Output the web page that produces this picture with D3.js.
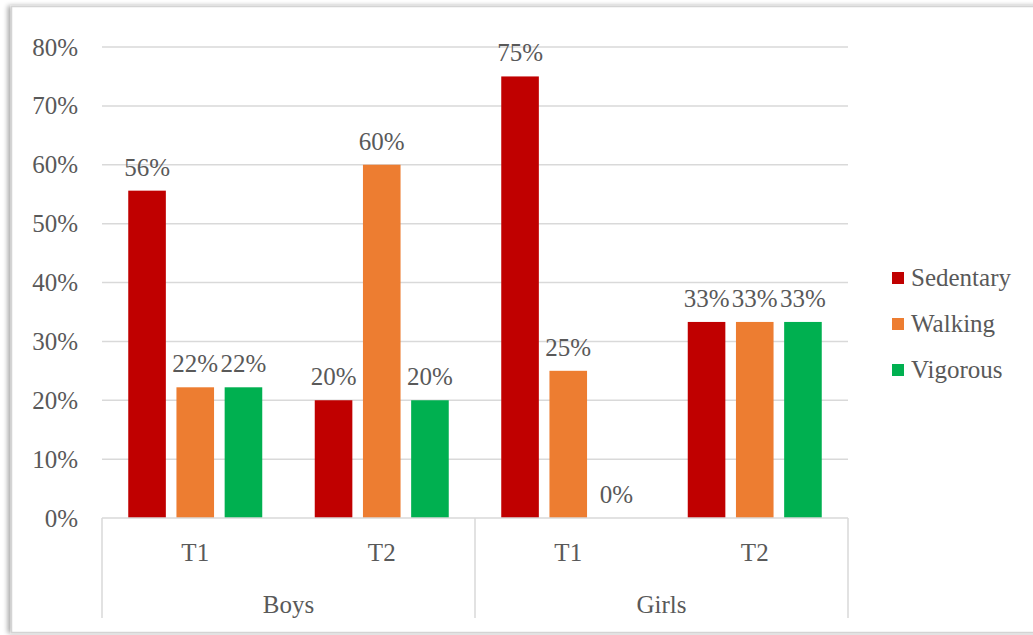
<!DOCTYPE html>
<html>
<head>
<meta charset="utf-8">
<script src="https://cdn.jsdelivr.net/npm/d3@7"></script>
<style>
html,body{margin:0;padding:0;background:#fff;}
svg{display:block;}
text{font-family:"Liberation Serif","Times New Roman",serif;fill:#595959;}
</style>
</head>
<body>
<svg id="chart" width="1033" height="635"></svg>
<script>
const groups = ["Boys", "Girls"];
const times = ["T1", "T2"];
const series = ["Sedentary", "Walking", "Vigorous"];
const colors = ["#C00000", "#ED7D31", "#00B050"];
const sedentary = [55.6, 20, 75, 33.3];
const walking = [22.2, 60, 25, 33.3];
const vigorous = [22.2, 20, 0, 33.3];
const dataLabels = [["56%","20%","75%","33%"],["22%","60%","25%","33%"],["22%","20%","0%","33%"]];
const yTicks = [0, 10, 20, 30, 40, 50, 60, 70, 80];

(function(){
const values = [sedentary, walking, vigorous];
const cats = [];
groups.forEach(g => times.forEach(t => cats.push(g + "|" + t)));

const svg = d3.select("#chart");

// frame with shadow
const defs = svg.append("defs");
const f = defs.append("filter").attr("id","sh").attr("x","-5%").attr("y","-5%").attr("width","110%").attr("height","110%");
f.append("feGaussianBlur").attr("in","SourceAlpha").attr("stdDeviation",2.5);
f.append("feOffset").attr("dx",-3).attr("dy",0).attr("result","b");
f.append("feComponentTransfer").append("feFuncA").attr("type","linear").attr("slope",0.35);
const fm = f.append("feMerge");
fm.append("feMergeNode");
fm.append("feMergeNode").attr("in","SourceGraphic");
svg.append("rect").attr("x",11.5).attr("y",6.5).attr("width",1040).attr("height",626)
  .attr("fill","#fff").attr("stroke","#d4d4d4").attr("stroke-width",1.5).attr("filter","url(#sh)");

const pLeft = 102, pRight = 848, pTop = 47, pBottom = 518;
const y = d3.scaleLinear().domain([0, 80]).range([pBottom, pTop]);
const x = d3.scaleBand().domain(cats).range([pLeft, pRight]).paddingInner(0).paddingOuter(0);
const xg = d3.scaleBand().domain(groups).range([pLeft, pRight]);
const groupW = 134;
const xs = d3.scaleBand().domain(series).range([0, groupW]).paddingInner(0.22).paddingOuter(0);

// gridlines
svg.append("g").selectAll("line").data(yTicks.filter(d => d > 0)).join("line")
  .attr("x1", pLeft).attr("x2", pRight).attr("y1", d => y(d)).attr("y2", d => y(d))
  .attr("stroke", "#d9d9d9").attr("stroke-width", 1.5);

// y axis labels
const yAxis = d3.axisLeft(y).tickValues(yTicks).tickFormat(d => d + "%").tickSize(0).tickPadding(24);
const ya = svg.append("g").attr("transform", `translate(${pLeft},0)`).call(yAxis);
ya.select(".domain").remove();
ya.selectAll("text").style("font-size","25px").style("fill","#595959").style("font-family","Liberation Serif");

// bars
series.forEach((s, si) => {
  svg.append("g").selectAll("rect").data(values[si]).join("rect")
    .attr("x", (d, i) => x(cats[i]) + x.bandwidth()/2 - groupW/2 + xs(s))
    .attr("width", xs.bandwidth())
    .attr("y", d => y(d))
    .attr("height", d => y(0) - y(d))
    .attr("fill", colors[si]);
  svg.append("g").selectAll("text").data(values[si]).join("text")
    .attr("x", (d, i) => x(cats[i]) + x.bandwidth()/2 - groupW/2 + xs(s) + xs.bandwidth()/2)
    .attr("y", d => y(d) - 15)
    .attr("text-anchor","middle").style("font-size","25px")
    .text((d, i) => dataLabels[si][i]);
});

// category axis
const ax = svg.append("g");
ax.append("line").attr("x1", pLeft).attr("x2", pRight).attr("y1", pBottom).attr("y2", pBottom)
  .attr("stroke","#d9d9d9").attr("stroke-width",1.5);
const seps = [pLeft, xg("Girls"), pRight];
ax.selectAll("line.sep").data(seps).join("line").attr("class","sep")
  .attr("x1", d => d).attr("x2", d => d).attr("y1", pBottom).attr("y2", 618)
  .attr("stroke","#d9d9d9").attr("stroke-width",1.5);
ax.selectAll("text.t").data(cats).join("text").attr("class","t")
  .attr("x", d => x(d) + x.bandwidth()/2).attr("y", 561)
  .attr("text-anchor","middle").style("font-size","25px")
  .text(d => d.split("|")[1]);
ax.selectAll("text.g").data(groups).join("text").attr("class","g")
  .attr("x", d => xg(d) + xg.bandwidth()/2).attr("y", 613)
  .attr("text-anchor","middle").style("font-size","25px")
  .text(d => d);

// legend
const lg = svg.append("g").attr("transform","translate(892,272)");
series.forEach((s, i) => {
  const row = lg.append("g").attr("transform", `translate(0,${i*46})`);
  row.append("rect").attr("width",12).attr("height",12).attr("fill",colors[i]);
  row.append("text").attr("x",19).attr("y",14).style("font-size","25px").text(s);
});
})();
</script>
</body>
</html>
